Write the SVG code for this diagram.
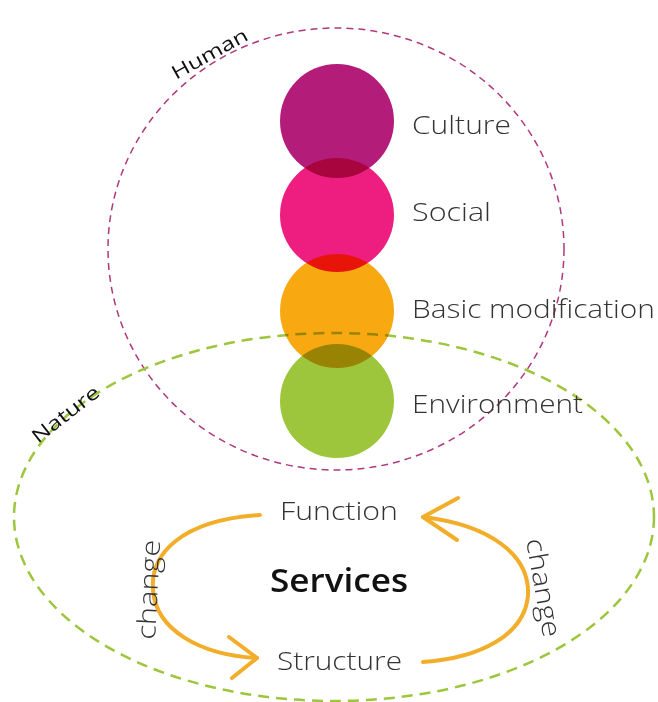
<svg xmlns="http://www.w3.org/2000/svg" width="658" height="702" viewBox="0 0 658 702">
<style>
.lbl{font-family:"Open Sans","DejaVu Sans",sans-serif;font-weight:300;fill:#333;font-size:26px}
.tag{font-family:"Open Sans","DejaVu Sans",sans-serif;font-weight:400;fill:#111;font-size:19px}
.arr{fill:none;stroke:#F2AE2A;stroke-width:4;stroke-linecap:round;stroke-linejoin:round}
.c{mix-blend-mode:multiply}
</style>
<rect width="658" height="702" fill="#fff"/>
<g id="connectors">
<path class="arr" d="M260 515 C 180 520, 150 555, 153 590 C 156 630, 200 655, 257 658"/>
<path class="arr" d="M229 637 L257 658 L232 678"/>
<path class="arr" d="M423 517 C 490 525, 530 555, 528 595 C 525 635, 480 658, 423 662"/>
<path class="arr" d="M458 498 L423 517 L457 540"/>
</g>
<g id="human">
<ellipse cx="336" cy="249" rx="228" ry="221" fill="none" stroke="#B0387E" stroke-width="1.5" stroke-dasharray="7 5"/>
<text class="tag" transform="translate(176,80) rotate(-29)" textLength="84" lengthAdjust="spacingAndGlyphs">Human</text>
</g>
<g id="nature">
<ellipse cx="334" cy="517" rx="320" ry="184" fill="none" stroke="#9DC63C" stroke-width="2.5" stroke-dasharray="11 7"/>
<text class="tag" transform="translate(38,444) rotate(-38)" textLength="80" lengthAdjust="spacingAndGlyphs">Nature</text>
</g>
<g id="culture"><circle class="c" cx="337" cy="121" r="57" fill="#B41C7A"/><text class="lbl" x="412" y="134" textLength="99" lengthAdjust="spacingAndGlyphs">Culture</text></g>
<g id="social"><circle class="c" cx="337" cy="215" r="57" fill="#EE1E80"/><text class="lbl" x="412" y="221" textLength="79" lengthAdjust="spacingAndGlyphs">Social</text></g>
<g id="basic"><circle class="c" cx="337" cy="311" r="57" fill="#F8A912"/><text class="lbl" x="412" y="318" textLength="243" lengthAdjust="spacingAndGlyphs">Basic modification</text></g>
<g id="environment"><circle class="c" cx="337" cy="401" r="57" fill="#9DC63C"/><text class="lbl" x="412" y="413" textLength="171" lengthAdjust="spacingAndGlyphs">Environment</text></g>
<g id="function"><text class="lbl" x="280" y="520" textLength="118" lengthAdjust="spacingAndGlyphs">Function</text></g>
<g id="structure"><text class="lbl" x="277" y="670" textLength="125" lengthAdjust="spacingAndGlyphs">Structure</text></g>
<g id="services"><text x="270" y="592" textLength="138" lengthAdjust="spacingAndGlyphs" style="font-family:'Open Sans','DejaVu Sans',sans-serif;font-weight:600;font-size:32px;fill:#111">Services</text></g>
<g id="change-left"><text class="lbl" transform="translate(155,640) rotate(-87)" textLength="100" lengthAdjust="spacingAndGlyphs">change</text></g>
<g id="change-right"><text class="lbl" transform="translate(526,540) rotate(80)" textLength="100" lengthAdjust="spacingAndGlyphs">change</text></g>
</svg>
